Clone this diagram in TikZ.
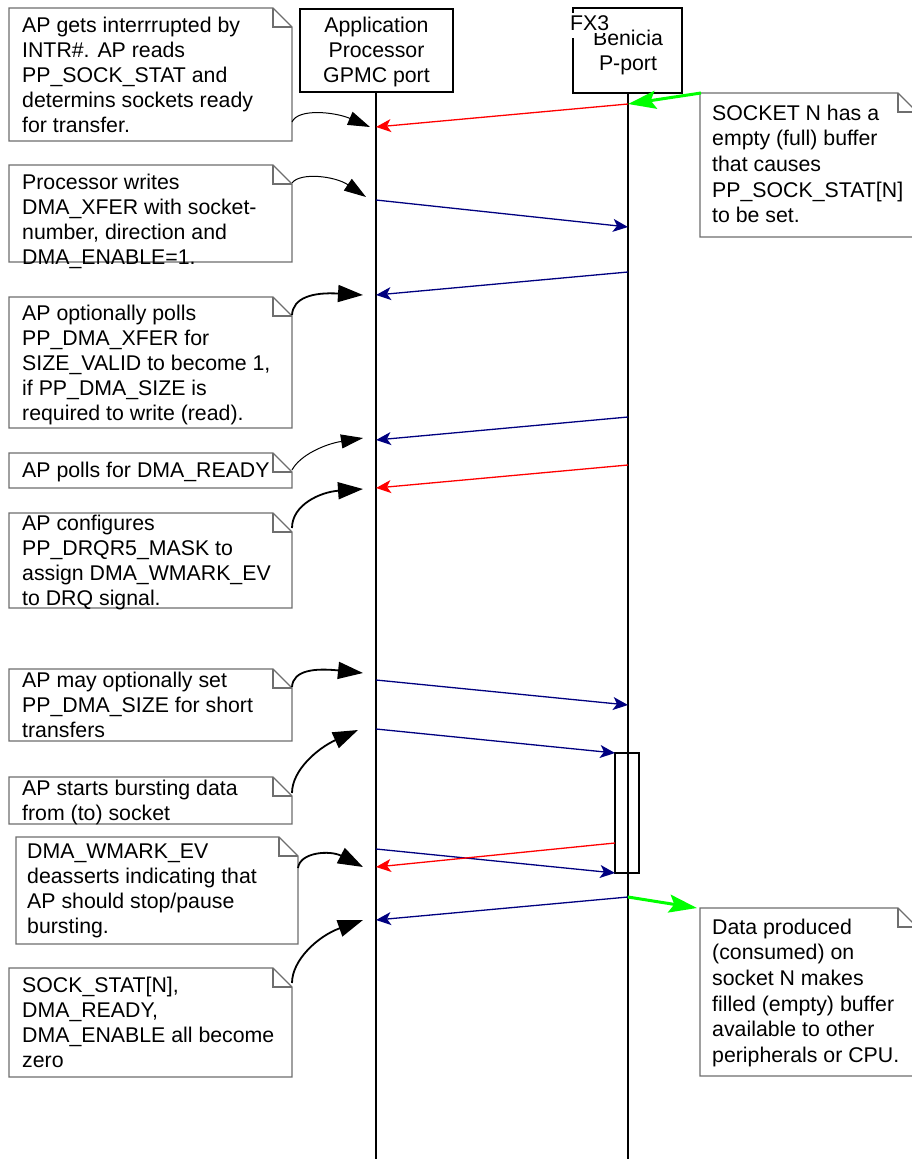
\documentclass[tikz,border=0pt]{standalone}
\usepackage{fontspec}
\setmainfont{Liberation Sans}
\usetikzlibrary{arrows.meta}
\definecolor{navy}{RGB}{0,0,128}
\definecolor{msgred}{RGB}{255,0,0}
\definecolor{msggreen}{RGB}{0,255,0}
\definecolor{notegray}{RGB}{110,110,110}
\newcommand\mynote[4]{%
  \draw[noteline] (#1,#2) -- (#3-19,#2) -- (#3,#2+19) -- (#3,#4) -- (#1,#4) -- cycle;
  \draw[noteline] (#3-19,#2) -- (#3-19,#2+19) -- (#3,#2+19);}
\begin{document}
\begin{tikzpicture}[x=1pt,y=-1pt,
  every node/.style={font=\fontsize{21.3}{25}\selectfont, inner sep=0pt},
  noteline/.style={draw=notegray, line width=1.3pt},
  notetext/.style={anchor=base west, align=left},
  rnotetext/.style={anchor=base west, align=left, font=\fontsize{21.3}{25.7}\selectfont},
  lifebox/.style={draw, line width=1.6pt},
  lifeline/.style={line width=1.6pt},
  msg/.style={line width=1.3pt, -{Stealth[length=15pt,width=13pt,inset=4pt]}},
  thincall/.style={line width=1pt, -{Triangle[length=22pt,width=14pt]}},
  boldcall/.style={line width=1.8pt, -{Triangle[length=25pt,width=17pt]}},
  greenarr/.style={draw=msggreen, line width=3pt, -{Stealth[length=28pt,width=18pt,inset=5pt]}}]
\useasboundingbox (0,0) rectangle (912,1159);
\fill[white] (0,0) rectangle (912,1159);

% lifeline boxes
\node[lifebox, minimum width=153pt, minimum height=83pt] (ap) at (376.5,50.5) {};
\node[lifebox, minimum width=109pt, minimum height=85pt] (fx) at (627.5,50.5) {};
\node[anchor=base, align=center] (aptext) at (376.5,82) {Application\\Processor\\GPMC port};
\node[anchor=base] (ben) at (628,45) {Benicia};
\node[anchor=base] (pport) at (628,70) {P-port};
\fill[white] (569,13) rectangle (613,33);
\fill[white] (569,13) rectangle (577,38);
\node[anchor=base west] (fx3) at (570,30) {FX3};

% lifelines
\coordinate (apend) at (376,1159);
\coordinate (fxend) at (628,1159);
\draw[lifeline] (376,92) -- (apend);
\draw[lifeline] (628,93) -- (fxend);

% activation box
\node[draw, line width=1.5pt, minimum width=24pt, minimum height=120pt] (act) at (627,813) {};

% left notes (text anchored at the baseline of the last line)
\mynote{9}{8}{292}{141}
\node[notetext] (t1) at (22,132) {AP gets interrrupted by\\INTR\#. AP reads\\PP\_SOCK\_STAT and\\determins sockets ready\\for transfer.};
\mynote{9}{165}{292}{262}
\node[notetext] (t2) at (22,264) {Processor writes\\DMA\_XFER with socket-\\number, direction and\\DMA\_ENABLE=1.};
\mynote{9}{297}{292}{428}
\node[notetext] (t3) at (22,420) {AP optionally polls\\PP\_DMA\_XFER for\\SIZE\_VALID to become 1,\\if PP\_DMA\_SIZE is\\required to write (read).};
\mynote{9}{453}{292}{488}
\node[notetext] (t4) at (22,477) {AP polls for DMA\_READY};
\mynote{9}{513}{292}{608}
\node[notetext] (t5) at (22,605) {AP configures\\PP\_DRQR5\_MASK to\\assign DMA\_WMARK\_EV\\to DRQ signal.};
\mynote{9}{669}{292}{741}
\node[notetext] (t6) at (22,737) {AP may optionally set\\PP\_DMA\_SIZE for short\\transfers};
\mynote{9}{777}{292}{824}
\node[notetext] (t7) at (22,820) {AP starts bursting data\\from (to) socket};
\mynote{16}{837}{298}{944}
\node[notetext] (t8) at (27,933) {DMA\_WMARK\_EV\\deasserts indicating that\\AP should stop/pause\\bursting.};
\mynote{9}{968}{292}{1077}
\node[notetext] (t9) at (22,1067) {SOCK\_STAT[N],\\DMA\_READY,\\DMA\_ENABLE all become\\zero};

% right notes
\mynote{700}{93}{917}{237}
\node[rnotetext] (r1) at (712,222.8) {SOCKET N has a\\empty (full) buffer\\that causes\\PP\_SOCK\_STAT[N]\\to be set.};
\mynote{700}{908}{917}{1076}
\node[rnotetext] (r2) at (712,1062.5) {Data produced\\(consumed) on\\socket N makes\\filled (empty) buffer\\available to other\\peripherals or CPU.};

% message end points
\coordinate (m1s) at (628,104);  \coordinate (m1e) at (376,127);
\coordinate (m2s) at (376,200);  \coordinate (m2e) at (628,227);
\coordinate (m3s) at (628,272);  \coordinate (m3e) at (376,295);
\coordinate (m4s) at (628,417);  \coordinate (m4e) at (376,440);
\coordinate (m5s) at (628,465);  \coordinate (m5e) at (376,488);
\coordinate (m6s) at (376,680);  \coordinate (m6e) at (628,705);
\coordinate (m7s) at (376,729);  \coordinate (m7e) at (615,753);
\coordinate (m8s) at (615,843);  \coordinate (m8e) at (376,867);
\coordinate (m9s) at (376,849);  \coordinate (m9e) at (615,873);
\coordinate (m10s) at (628,897); \coordinate (m10e) at (376,920);

\draw[msg, msgred] (m1s) -- (m1e);
\draw[msg, navy] (m2s) -- (m2e);
\draw[msg, navy] (m3s) -- (m3e);
\draw[msg, navy] (m4s) -- (m4e);
\draw[msg, msgred] (m5s) -- (m5e);
\draw[msg, navy] (m6s) -- (m6e);
\draw[msg, navy] (m7s) -- (m7e);
\draw[msg, navy] (m9s) -- (m9e);
\draw[msg, msgred] (m8s) -- (m8e);
\draw[msg, navy] (m10s) -- (m10e);

% green arrows
\coordinate (g1s) at (701,93);
\coordinate (g2e) at (697,908);
\draw[greenarr] (g1s) -- (m1s);
\draw[greenarr] (m10s) -- (g2e);

% note call-out arrows
\coordinate (c1s) at (292,122);  \coordinate (c1e) at (370,127);
\coordinate (c2s) at (292,183);  \coordinate (c2e) at (366,197);
\coordinate (c3s) at (292,315);  \coordinate (c3e) at (363,295);
\coordinate (c4s) at (292,470);  \coordinate (c4e) at (363,438);
\coordinate (c5s) at (292,528);  \coordinate (c5e) at (363,489);
\coordinate (c6s) at (292,687);  \coordinate (c6e) at (363,673);
\coordinate (c7s) at (292,793);  \coordinate (c7e) at (358,730);
\coordinate (c8s) at (298,868);  \coordinate (c8e) at (363,867);
\coordinate (c9s) at (292,983);  \coordinate (c9e) at (363,920);

\draw[thincall] (c1s) .. controls (298,108) and (335,112) .. (c1e);
\draw[thincall] (c2s) .. controls (300,172) and (335,176) .. (c2e);
\draw[boldcall] (c3s) .. controls (293,298) and (312,292) .. (c3e);
\draw[thincall] (c4s) .. controls (300,455) and (325,444) .. (c4e);
\draw[boldcall] (c5s) .. controls (292,505) and (320,492) .. (c5e);
\draw[boldcall] (c6s) .. controls (293,670) and (315,668) .. (c6e);
\draw[boldcall] (c7s) .. controls (292,770) and (318,748) .. (c7e);
\draw[boldcall] (c8s) .. controls (300,852) and (330,850) .. (c8e);
\draw[boldcall] (c9s) .. controls (292,960) and (318,936) .. (c9e);
\end{tikzpicture}
\end{document}
